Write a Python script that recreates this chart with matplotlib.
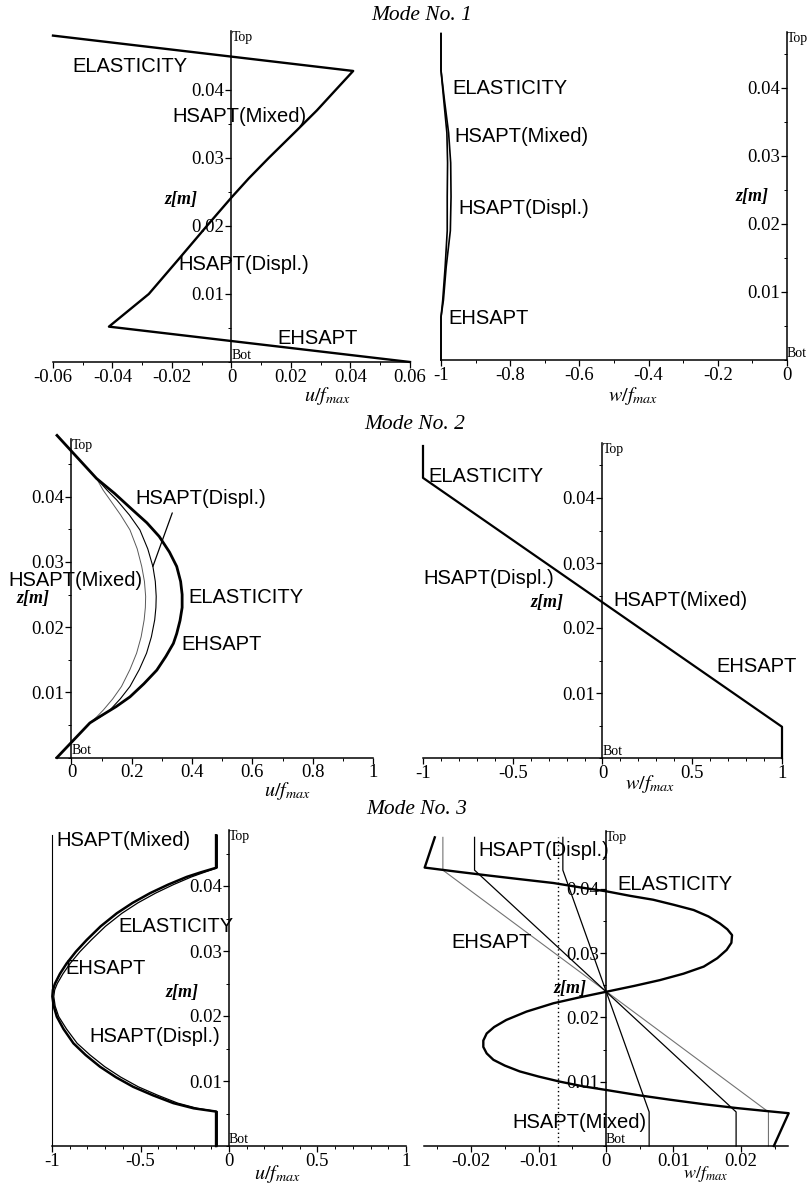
import numpy as np
import matplotlib.pyplot as plt
from matplotlib.ticker import MultipleLocator

plt.rcParams['axes.unicode_minus'] = False
plt.rcParams['mathtext.fontset'] = 'stix'

W, H = 812, 1184
SERIF = 'Liberation Serif'
SANS = 'Liberation Sans'

# ---- Mode 1, in-plane u (all theories coincide)
z_u1 = [0.0480, 0.0428, 0.0400, 0.0370, 0.0340, 0.0300, 0.0270, 0.0242,
        0.0200, 0.0150, 0.0100, 0.0052, 0.0]
u1 = [-0.0600, 0.0409, 0.0350, 0.0287, 0.0218, 0.0125, 0.0058, 0.0,
      -0.0083, -0.0180, -0.0278, -0.0412, 0.0600]

# ---- Mode 1, transverse w
z_w1 = [0.0480, 0.0426, 0.0382, 0.0334, 0.0290, 0.0240, 0.0190, 0.0137,
        0.0088, 0.0063, 0.0]
w1_el = [-1.0, -1.0, -0.990, -0.978, -0.972, -0.971, -0.973, -0.985,
         -0.993, -1.0, -1.0]
w1_hs = [-1.0, -1.0, -0.992, -0.983, -0.981, -0.982, -0.982, -0.988,
         -0.995, -1.0, -1.0]

# ---- Mode 2, in-plane u
z_u2_el = [0.0494, 0.0428, 0.0405, 0.0380, 0.0360, 0.0339, 0.0315, 0.0293,
           0.0270, 0.0250, 0.0230, 0.0210, 0.0190, 0.0175, 0.0155, 0.0134,
           0.0113, 0.0093, 0.0078, 0.0063, 0.0053, 0.0]
u2_el = [-0.048, 0.083, 0.143, 0.202, 0.250, 0.291, 0.325, 0.349,
         0.362, 0.367, 0.367, 0.360, 0.349, 0.338, 0.313, 0.283,
         0.240, 0.194, 0.148, 0.095, 0.061, -0.048]
z_u2_hs = [0.0428, 0.0410, 0.0395, 0.0372, 0.0349, 0.0320, 0.0293, 0.0270,
           0.0247, 0.0230, 0.0211, 0.0185, 0.0160, 0.0135, 0.0109, 0.0090,
           0.0073, 0.0062, 0.0053]
u2_hd = [0.083, 0.118, 0.150, 0.192, 0.227, 0.253, 0.270, 0.278,
         0.281, 0.280, 0.276, 0.265, 0.249, 0.225, 0.194, 0.162,
         0.128, 0.095, 0.061]
u2_hm = [0.083, 0.105, 0.128, 0.163, 0.194, 0.218, 0.233, 0.242,
         0.246, 0.245, 0.241, 0.231, 0.216, 0.194, 0.166, 0.137,
         0.106, 0.083, 0.061]

# ---- Mode 2, transverse w
z_w2 = [0.0480, 0.0431, 0.0048, 0.0]
w2 = [-1.0, -1.0, 1.0, 1.0]

# ---- Mode 3, in-plane u
z_u3 = [0.0478, 0.0428, 0.0421, 0.0414, 0.0402, 0.0389, 0.0374, 0.0358,
        0.0338, 0.0317, 0.0299, 0.0281, 0.0265, 0.0250, 0.0240, 0.0230,
        0.0215, 0.0199, 0.0180, 0.0158, 0.0140, 0.0122, 0.0106, 0.0091,
        0.0078, 0.0066, 0.0058, 0.0053, 0.0]
u3_el = [-0.073, -0.073, -0.160, -0.239, -0.345, -0.446, -0.545, -0.634,
         -0.725, -0.804, -0.865, -0.917, -0.955, -0.983, -0.995, -0.998,
         -0.990, -0.973, -0.935, -0.879, -0.810, -0.729, -0.640, -0.541,
         -0.430, -0.315, -0.200, -0.073, -0.073]
u3_hd = [-0.066, -0.066, -0.140, -0.212, -0.315, -0.415, -0.515, -0.605,
         -0.698, -0.778, -0.842, -0.897, -0.938, -0.970, -0.985, -0.990,
         -0.982, -0.962, -0.918, -0.858, -0.785, -0.702, -0.612, -0.512,
         -0.402, -0.290, -0.180, -0.066, -0.066]
z_u3_hm = [0.0, 0.0478]
u3_hm = [-1.0, -1.0]

# ---- Mode 3, transverse w
z_w3_el = [0.0480, 0.0433, 0.0427, 0.0421, 0.0415, 0.0409, 0.0402, 0.0396,
           0.0389, 0.0383, 0.0375, 0.0367, 0.0357, 0.0346, 0.0337, 0.0328,
           0.0316, 0.0305, 0.0292, 0.0279, 0.0268, 0.0258, 0.0249, 0.0240,
           0.0231, 0.0222, 0.0209, 0.0196, 0.0185, 0.0175, 0.0164, 0.0154,
           0.0144, 0.0134, 0.0125, 0.0116, 0.0108, 0.0100, 0.0093, 0.0087,
           0.0079, 0.0072, 0.0065, 0.0059, 0.0055, 0.0051, 0.0]
w3_el = [-0.0254, -0.0269, -0.0224, -0.0177, -0.0128, -0.0078, -0.0037, 0.0001,
         0.0036, 0.0070, 0.0101, 0.0130, 0.0152, 0.0169, 0.0180, 0.0187,
         0.0186, 0.0179, 0.0165, 0.0145, 0.0115, 0.0080, 0.0042, 0.0001,
         -0.0040, -0.0078, -0.0118, -0.0148, -0.0166, -0.0177, -0.0182, -0.0182,
         -0.0177, -0.0167, -0.0150, -0.0128, -0.0100, -0.0068, -0.0035, 0.0001,
         0.0048, 0.0095, 0.0145, 0.0194, 0.0232, 0.0271, 0.0249]
z_w3_lin = [0.0480, 0.0429, 0.0053, 0.0]
w3_hd = [-0.0242, -0.0242, 0.0241, 0.0241]
w3_eh = [-0.0195, -0.0195, 0.0193, 0.0193]
w3_hm = [-0.0064, -0.0064, 0.0064, 0.0064]
z_w3_dot = [0.0, 0.0480]
w3_dot = [-0.0071, -0.0071]

z_ticks = [0.01, 0.02, 0.03, 0.04]
z_ticklabels = ['0.01', '0.02', '0.03', '0.04']

fig = plt.figure(figsize=(W / 100, H / 100), dpi=100)


def ftext(x, y, s, **kw):
    kw.setdefault('ha', 'left')
    kw.setdefault('va', 'center')
    return fig.text(x / W, 1 - y / H, s, **kw)


def panel(xlim, xpix, ypix0, yscale, ytop, xticks, xlabels, xminor):
    top_pix = ypix0 - ytop * yscale
    ax = fig.add_axes([xpix[0] / W, 1 - ypix0 / H,
                       (xpix[1] - xpix[0]) / W, (ypix0 - top_pix) / H])
    ax.set_xlim(*xlim)
    ax.set_ylim(0, ytop)
    ax.patch.set_visible(False)
    for s in ('top', 'right'):
        ax.spines[s].set_visible(False)
    ax.spines['left'].set_position(('data', 0))
    ax.spines['bottom'].set_position(('data', 0))
    for s in ('left', 'bottom'):
        ax.spines[s].set_linewidth(1.1)
    ax.set_xticks(xticks)
    ax.set_xticklabels(xlabels, fontfamily=SERIF, fontsize=13.5)
    ax.set_yticks(z_ticks)
    ax.set_yticklabels(z_ticklabels, fontfamily=SERIF, fontsize=13.5)
    ax.xaxis.set_minor_locator(MultipleLocator(xminor))
    ax.yaxis.set_minor_locator(MultipleLocator(0.005))
    ax.tick_params(which='major', direction='out', length=4, width=0.9, pad=1)
    ax.tick_params(which='minor', direction='out', length=2, width=0.7)
    ax.text(0, ytop, 'Top', ha='left', va='top', fontsize=10,
            fontfamily=SERIF)
    ax.text(0, 0, 'Bot', ha='left', va='bottom', fontsize=10,
            fontfamily=SERIF)
    return ax


def zlabel(x, y):
    ftext(x, y, 'z[m]', ha='center', fontfamily=SERIF, style='italic',
          weight='bold', fontsize=13)


def xlabel(x, y, s, size=14.5):
    ftext(x, y, s, ha='center', fontsize=size)


def curve_label(x, y, s):
    ftext(x, y, s, fontfamily=SANS, fontsize=14.5)


def title(x, y, s):
    ftext(x, y, s, ha='center', fontfamily=SERIF, style='italic',
          fontsize=15.5)


# ---------------- Mode No. 1
title(422, 16, 'Mode No. 1')

ax1 = panel((-0.06, 0.06), (53, 410), 362, 6800, 0.0487,
            [-0.06, -0.04, -0.02, 0, 0.02, 0.04, 0.06],
            ['-0.06', '-0.04', '-0.02', '0', '0.02', '0.04', '0.06'], 0.01)
ax1.plot(u1, z_u1, color='black', lw=1.7, clip_on=False)
zlabel(181, 200)
xlabel(327, 396, r'$u/f_{max}$')
curve_label(72, 66, 'ELASTICITY')
curve_label(172, 116, 'HSAPT(Mixed)')
curve_label(178, 264, 'HSAPT(Displ.)')
curve_label(277, 338, 'EHSAPT')

ax2 = panel((-1, 0), (441, 787), 360, 6800, 0.0482,
            [-1, -0.8, -0.6, -0.4, -0.2, 0],
            ['-1', '-0.8', '-0.6', '-0.4', '-0.2', '0'], 0.1)
ax2.plot(w1_el, z_w1, color='black', lw=1.2, clip_on=False)
ax2.plot(w1_hs, z_w1, color='black', lw=1.2, clip_on=False)
zlabel(752, 197)
xlabel(633, 396, r'$w/f_{max}$')
curve_label(452, 88, 'ELASTICITY')
curve_label(454, 137, 'HSAPT(Mixed)')
curve_label(458, 208, 'HSAPT(Displ.)')
curve_label(448, 318, 'EHSAPT')

# ---------------- Mode No. 2
title(415, 425, 'Mode No. 2')

ax3 = panel((-0.05, 1), (56.4, 373), 757.5, 6520, 0.0488,
            [0, 0.2, 0.4, 0.6, 0.8, 1],
            ['0', '0.2', '0.4', '0.6', '0.8', '1'], 0.1)
ax3.plot(u2_hm, z_u2_hs, color='0.35', lw=0.7, clip_on=False)
ax3.plot(u2_hd, z_u2_hs, color='black', lw=0.8, clip_on=False)
ax3.plot(u2_el, z_u2_el, color='black', lw=2.0, clip_on=False)
ax3.annotate('HSAPT(Displ.)', xy=(u2_hd[6], z_u2_hs[6]),
             xytext=(135, H - 498), textcoords='figure pixels',
             ha='left', va='center', fontfamily=SANS, fontsize=14.5,
             arrowprops=dict(arrowstyle='-', lw=0.9, color='black',
                             relpos=(0.3, 0.0), shrinkA=2, shrinkB=0))
zlabel(33, 598)
xlabel(287, 791, r'$u/f_{max}$')
curve_label(8, 580, 'HSAPT(Mixed)')
curve_label(188, 597, 'ELASTICITY')
curve_label(181, 645, 'EHSAPT')

ax4 = panel((-1, 1), (423, 782), 758, 6500, 0.0485,
            [-1, -0.5, 0, 0.5, 1],
            ['-1', '-0.5', '0', '0.5', '1'], 0.1)
ax4.plot(w2, z_w2, color='black', lw=1.6, clip_on=False)
zlabel(547, 602)
xlabel(650, 784, r'$w/f_{max}$')
curve_label(428, 477, 'ELASTICITY')
curve_label(423, 578, 'HSAPT(Displ.)')
curve_label(613, 600, 'HSAPT(Mixed)')
curve_label(716, 666, 'EHSAPT')

# ---------------- Mode No. 3
title(417, 810, 'Mode No. 3')

ax5 = panel((-1, 1), (52, 406), 1146, 6500, 0.0486,
            [-1, -0.5, 0, 0.5, 1],
            ['-1', '-0.5', '0', '0.5', '1'], 0.1)
ax5.plot(u3_hm, z_u3_hm, color='black', lw=0.8, clip_on=False)
ax5.plot(u3_hd, z_u3, color='black', lw=0.9, clip_on=False)
ax5.plot(u3_el, z_u3, color='black', lw=1.8, clip_on=False)
zlabel(182, 992)
xlabel(277, 1174, r'$u/f_{max}$')
curve_label(56, 841, 'HSAPT(Mixed)')
curve_label(118, 927, 'ELASTICITY')
curve_label(65, 969, 'EHSAPT')
curve_label(89, 1037, 'HSAPT(Displ.)')

ax6 = panel((-0.027, 0.027), (424, 788), 1146, 6430, 0.0490,
            [-0.02, -0.01, 0, 0.01, 0.02],
            ['-0.02', '-0.01', '0', '0.01', '0.02'], 0.005)
ax6.plot(w3_dot, z_w3_dot, color='black', lw=1.0, ls=(0, (1, 2)),
         clip_on=False)
ax6.plot(w3_hd, z_w3_lin, color='0.45', lw=0.8, clip_on=False)
ax6.plot(w3_eh, z_w3_lin, color='black', lw=0.9, clip_on=False)
ax6.plot(w3_hm, z_w3_lin, color='black', lw=0.9, clip_on=False)
ax6.plot(w3_el, z_w3_el, color='black', lw=1.7, clip_on=False)
zlabel(570, 988)
xlabel(706, 1174, r'$w/f_{max}$', size=13)
curve_label(478, 850, 'HSAPT(Displ.)')
curve_label(617, 885, 'ELASTICITY')
curve_label(451, 943, 'EHSAPT')
curve_label(512, 1122, 'HSAPT(Mixed)')

fig.savefig('out.png', dpi=100)
